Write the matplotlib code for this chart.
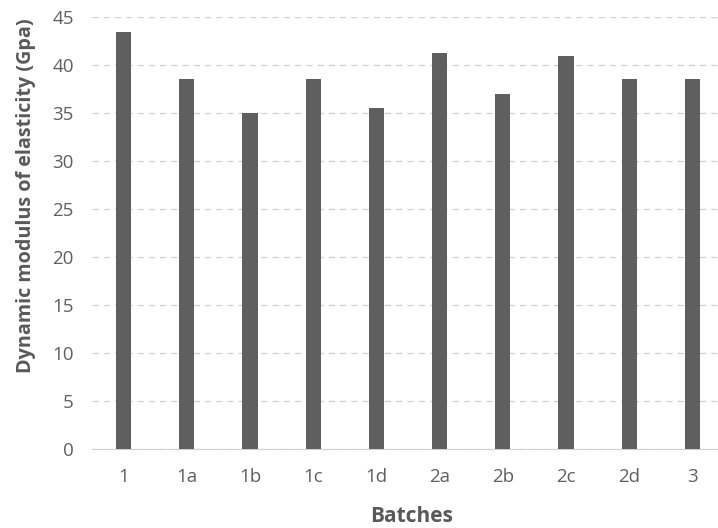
import matplotlib.pyplot as plt
import numpy as np

batches = ["1", "1a", "1b", "1c", "1d", "2a", "2b", "2c", "2d", "3"]
modulus = [43.4, 38.5, 35.0, 38.5, 35.5, 41.2, 37.0, 40.9, 38.5, 38.5]

plt.rcParams['font.family'] = ['Open Sans', 'DejaVu Sans']

fig = plt.figure(figsize=(7.18, 5.28), dpi=100)
# axes runs a bit past the right edge, like the cropped original
ax = fig.add_axes([92/718, 79/528, 632/718, (449-17)/528])

x = np.arange(len(batches))
ax.bar(x, modulus, width=0.24, color="#5f5f5f", zorder=3)

ax.set_xlim(-0.5, len(batches) - 0.5)
ax.set_ylim(0, 45)
ax.set_yticks(np.arange(0, 46, 5))
ax.set_xticks(x)
ax.set_xticklabels(batches)
ax.yaxis.grid(True, linestyle=(0, (5, 4)), color="#d0d0d0", linewidth=0.9, zorder=0)

for s in ["top", "right", "left"]:
    ax.spines[s].set_visible(False)
ax.spines["bottom"].set_color("#d0d0d0")
ax.tick_params(length=0, labelsize=13.5, labelcolor="#606060")
ax.tick_params(axis="y", pad=13)
ax.tick_params(axis="x", pad=14)

ax.set_xlabel("Batches", fontsize=15, fontweight="bold", color="#595959")
ax.xaxis.set_label_coords((412-92)/632, -(517-449)/432)
ax.xaxis.label.set_va("center")

fig.text(26/718, 1-196/528, "Dynamic modulus of elasticity (Gpa)", rotation=90,
         ha="center", va="center", fontsize=14.2, fontweight="bold", color="#595959")

fig.savefig("out.png", dpi=100)
